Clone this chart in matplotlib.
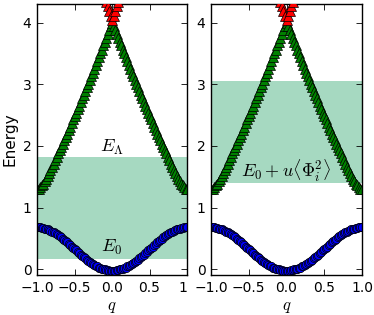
import numpy as np
import matplotlib
matplotlib.use("Agg")
import matplotlib.pyplot as plt
from matplotlib.transforms import ScaledTranslation

plt.rcParams['mathtext.fontset'] = 'cm'
plt.rcParams['font.family'] = 'DejaVu Sans'
plt.rcParams['font.size'] = 10

# sample grid in q and the bands read at |q| = 0, 0.02, ..., 1.0
q = np.linspace(-1.0, 1.0, 101)
upper_half = [4.00, 3.94, 3.88, 3.82, 3.75, 3.69, 3.63, 3.56, 3.50, 3.44,
              3.38, 3.31, 3.25, 3.19, 3.13, 3.07, 3.01, 2.95, 2.89, 2.83,
              2.77, 2.71, 2.65, 2.60, 2.54, 2.48, 2.43, 2.37, 2.31, 2.26,
              2.20, 2.15, 2.09, 2.04, 1.99, 1.93, 1.88, 1.82, 1.77, 1.71,
              1.66, 1.61, 1.56, 1.51, 1.47, 1.43, 1.39, 1.36, 1.33, 1.31,
              1.30]
lower_half = [-0.02, -0.02, -0.02, -0.01, -0.01, 0.00, 0.00, 0.01, 0.02, 0.03,
              0.05, 0.06, 0.07, 0.09, 0.11, 0.12, 0.14, 0.16, 0.18, 0.20,
              0.22, 0.24, 0.26, 0.29, 0.31, 0.33, 0.35, 0.37, 0.40, 0.42,
              0.44, 0.46, 0.48, 0.50, 0.52, 0.54, 0.55, 0.57, 0.59, 0.60,
              0.61, 0.63, 0.64, 0.65, 0.66, 0.66, 0.67, 0.67, 0.68, 0.68,
              0.68]
upper_band = np.concatenate([upper_half[::-1], upper_half[1:]])
lower_band = np.concatenate([lower_half[::-1], lower_half[1:]])

q_top = [-0.08, -0.06, -0.04, -0.02, 0.0, 0.02, 0.04, 0.06, 0.08]
top_band = [4.34, 4.26, 4.18, 4.10, 4.04, 4.10, 4.18, 4.26, 4.34]

# shaded windows (bottom, top) for each panel
window_left = (0.17, 1.82)
window_right = (1.40, 3.05)
band_color = '#a6d9c1'

xticks = [-1.0, -0.5, 0.0, 0.5, 1.0]
xlabels_left = ['\u22121.0', '\u22120.5', '0.0', '0.5', '1']
xlabels_right = ['\u22121.0', '\u22120.5', '0.0', '0.5', '1.0']
yticks = [0, 1, 2, 3, 4]

fig = plt.figure(figsize=(3.74, 3.15), dpi=100)
ax1 = fig.add_axes([37/374, 40/315, 150/374, 271/315])
ax2 = fig.add_axes([211/374, 40/315, 151/374, 271/315])

for ax, window, xl in [(ax1, window_left, xlabels_left),
                       (ax2, window_right, xlabels_right)]:
    ax.axhspan(window[0], window[1], color=band_color, lw=0, zorder=0)
    ax.plot(q, lower_band, 'o', color='b', mec='k', mew=0.5, ms=6, zorder=2)
    ax.plot(q, upper_band, '^', color='g', mec='k', mew=0.5, ms=6.5, zorder=2)
    ax.plot(q_top, top_band, '^', color='r', mec='k', mew=0.5, ms=6.5, zorder=3)
    ax.set_xlim(-1, 1)
    ax.set_ylim(-0.09, 4.3)
    ax.set_xticks(xticks)
    ax.set_xticklabels(xl)
    ax.set_yticks(yticks)
    ax.tick_params(direction='in', top=True, right=True, length=4, width=0.6,
                   labelsize=10, pad=4)
    ax.set_xlabel('$q$', fontsize=12, labelpad=2)
    for sp in ax.spines.values():
        sp.set_linewidth(1.0)

# the left panel's last label is cut down to "1" in the reference
last = ax1.get_xticklabels()[-1]
last.set_transform(last.get_transform() + ScaledTranslation(-4/100, 0, fig.dpi_scale_trans))

ax1.set_ylabel('Energy', fontsize=11, labelpad=4)
ax1.text(0.0, 1.97, r'$E_\Lambda$', ha='center', va='center', fontsize=13)
ax1.text(0.0, 0.36, r'$E_0$', ha='center', va='center', fontsize=13)
ax2.text(0.0, 1.60, r'$E_0 + u\langle\Phi_i^2\rangle$', ha='center', va='center',
         fontsize=13)

fig.savefig('out.png', dpi=100)
